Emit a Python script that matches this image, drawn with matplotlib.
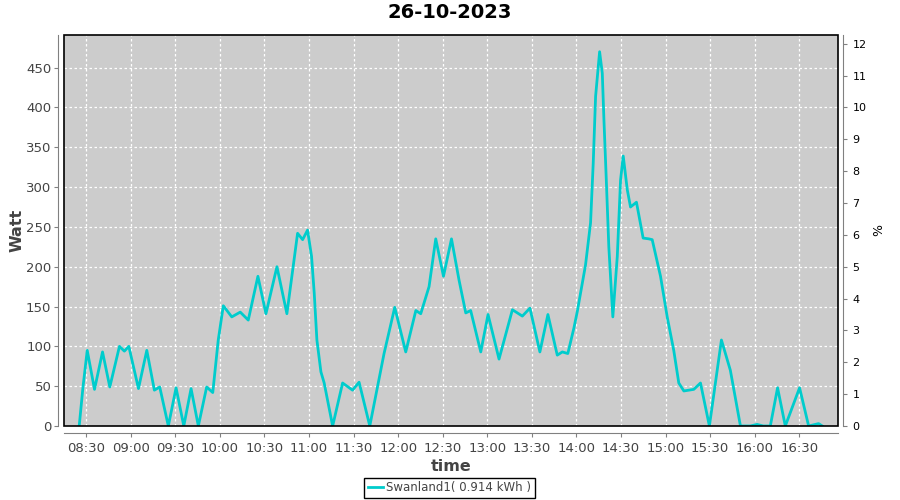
#!/usr/bin/env python3
"""Daily power curve for one inverter (Swanland1), 26-10-2023."""

import matplotlib
matplotlib.use("Agg")
import matplotlib.pyplot as plt
from matplotlib.patches import Rectangle

# Sample times in minutes after midnight, power in watt
minutes = [505.3, 507.8, 510.7, 515.6, 521.0, 525.9, 532.4, 535.7, 538.7, 545.2,
           550.8, 555.9, 559.5, 565.3, 570.5, 575.7, 580.6, 585.5, 591.1, 595.2,
           598.9, 602.3, 608.0, 613.7, 619.1, 625.6, 631.0, 638.4, 645.1, 652.3,
           655.7, 659.0, 661.7, 663.5, 665.3, 668.0, 670.2, 675.9, 682.6, 689.3,
           693.7, 700.9, 710.5, 717.7, 725.1, 731.9, 735.2, 740.8, 745.3, 750.5,
           755.9, 761.0, 765.5, 768.8, 775.6, 780.5, 787.9, 796.9, 803.6, 808.7,
           815.4, 820.8, 827.1, 830.5, 834.2, 838.3, 840.6, 846.1, 849.5, 851.3,
           852.9, 855.6, 857.4, 858.5, 860.1, 861.8, 864.5, 867.5, 869.7, 871.5,
           874.2, 876.4, 880.4, 884.9, 888.7, 891.0, 896.6, 901.1, 905.5, 908.9,
           912.3, 919.0, 923.5, 929.5, 937.6, 943.6, 950.4, 957.0, 961.6, 965.8,
           970.5, 975.4, 980.6, 990.2, 996.3, 1003.0, 1005.5]
watt = [0, 48, 95, 46, 93, 49, 100, 94, 100, 47,
        95, 45, 49, 0, 48, 0, 47, 0, 49, 42,
        108, 151, 137, 143, 133, 188, 141, 200, 141, 242,
        234, 246, 213, 167, 108, 68, 54, 0, 54, 45,
        55, 0, 91, 149, 93, 145, 141, 175, 235, 188,
        235, 183, 142, 145, 93, 140, 84, 146, 138, 148,
        93, 140, 89, 93, 91, 123, 144, 202, 255, 330,
        414, 470, 443, 385, 309, 225, 137, 213, 309, 339,
        297, 275, 281, 236, 235, 234, 188, 137, 95, 54,
        44, 46, 54, 0, 108, 70, 0, 0, 2, 0,
        0, 48, 0, 48, 0, 3, 0]

tick_minutes = [510, 540, 570, 600, 630, 660, 690, 720, 750, 780,
                810, 840, 870, 900, 930, 960, 990]
tick_labels = ["08:30", "09:00", "09:30", "10:00", "10:30", "11:00", "11:30",
               "12:00", "12:30", "13:00", "13:30", "14:00", "14:30", "15:00",
               "15:30", "16:00", "16:30"]
watt_ticks = [0, 50, 100, 150, 200, 250, 300, 350, 400, 450]
pct_ticks = list(range(0, 13))

title = "26-10-2023"
series_label = "Swanland1( 0.914 kWh )"
watt_per_pct = 40.0

AXIS_GRAY = "#808080"
TEXT_GRAY = "#444444"
LINE_COLOR = "#00cccc"

plt.rcParams['font.family'] = ['DejaVu Sans']

fig = plt.figure(figsize=(9, 5), dpi=100)
ax = fig.add_axes([0.071, 0.148, 0.860, 0.782])
ax.set_facecolor("#cccccc")

ax.plot(minutes, watt, color=LINE_COLOR, lw=2, label=series_label,
        solid_joinstyle='round', zorder=3)

ymax = 491
ax.set_xlim(495, 1016)
ax.set_ylim(0, ymax)
ax.set_xticks(tick_minutes)
ax.set_xticklabels(tick_labels)
ax.set_yticks(watt_ticks)

ax.grid(True, color="white", linestyle=(0, (2, 2)), linewidth=0.9)
ax.set_axisbelow(True)

for side in ("top", "right"):
    ax.spines[side].set_visible(False)
ax.spines["left"].set_position(("outward", 4))
ax.spines["bottom"].set_position(("outward", 5))
for side in ("left", "bottom"):
    ax.spines[side].set_color(AXIS_GRAY)
ax.tick_params(colors=AXIS_GRAY, labelcolor=TEXT_GRAY, length=3, labelsize=9.5)
ax.tick_params(axis="y", pad=2)

# black frame round the data area
ax.add_patch(Rectangle((0, 0), 1, 1, transform=ax.transAxes, fill=False,
                       edgecolor="black", lw=1.2, zorder=5, clip_on=False))

ax2 = ax.twinx()
ax2.set_ylim(0, ymax / watt_per_pct)
ax2.set_yticks(pct_ticks)
for side in ("top", "left", "bottom"):
    ax2.spines[side].set_visible(False)
ax2.spines["right"].set_position(("outward", 4))
ax2.spines["right"].set_color(AXIS_GRAY)
ax2.tick_params(colors=AXIS_GRAY, labelcolor="black", length=3, labelsize=8)
ax2.set_ylabel("%", rotation=-90, fontsize=9, labelpad=6, va="center")

ax.set_ylabel("Watt", fontsize=11.5, color=TEXT_GRAY, weight="bold", labelpad=1)
ax.set_xlabel("time", fontsize=11.5, color=TEXT_GRAY, weight="bold", labelpad=3)
fig.suptitle(title, fontsize=14, weight="bold", y=0.995)

leg = fig.legend(*ax.get_legend_handles_labels(), loc="center",
                 bbox_to_anchor=(0.4995, 0.024), fancybox=False,
                 edgecolor="black", framealpha=1, fontsize=8.5,
                 handlelength=1.3, handletextpad=0.3, borderpad=0.3,
                 borderaxespad=0)
leg.get_frame().set_linewidth(1.0)
for txt in leg.get_texts():
    txt.set_color(TEXT_GRAY)

fig.savefig("out.png", dpi=100)
